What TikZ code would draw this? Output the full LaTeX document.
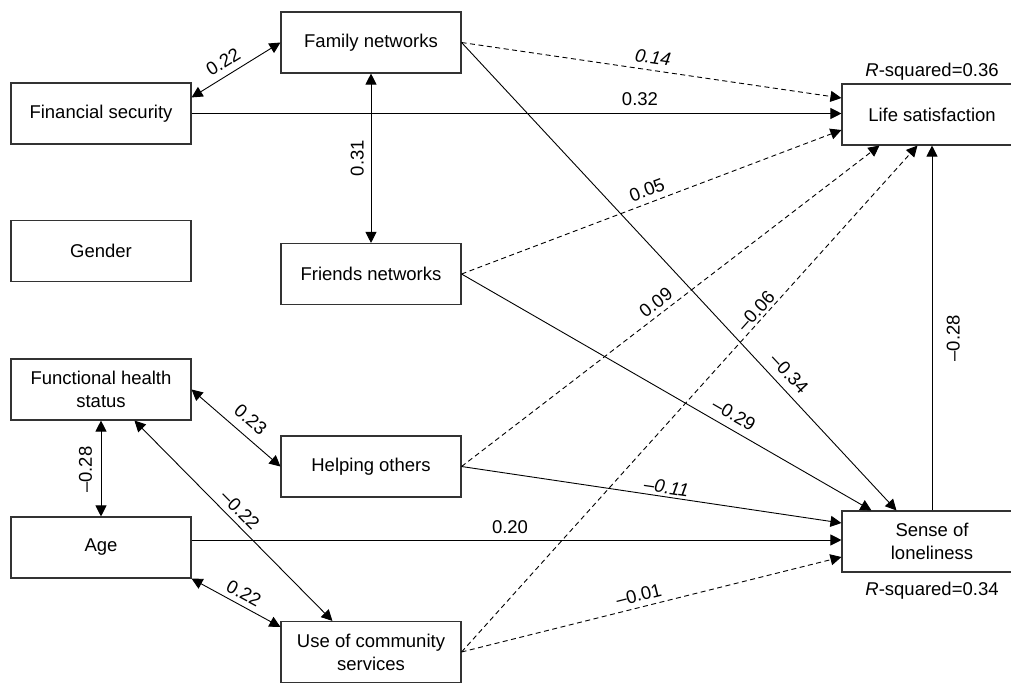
\documentclass[tikz,border=0pt]{standalone}
\usepackage{fontspec}
\setmainfont{Liberation Sans}
\usetikzlibrary{arrows.meta,calc}
\begin{document}
\begin{tikzpicture}[x=1pt,y=-1pt,
  box/.style={draw=black!80,line width=1.1pt,minimum width=180pt,minimum height=61pt,align=center,inner sep=2pt,font=\fontsize{18.5}{23}\selectfont},
  conn/.style={line width=0.9pt,-{Triangle[length=11pt,width=11pt]}},
  bi/.style={line width=0.9pt,{Triangle[length=11pt,width=11pt]}-{Triangle[length=11pt,width=11pt]}},
  dsh/.style={dash pattern=on 5pt off 3.5pt},
  lab/.style={font=\fontsize{18.5}{22}\selectfont,inner sep=3pt,outer sep=#1,sloped},
  lab/.default=0pt,
  rsq/.style={font=\fontsize{18.5}{22}\selectfont,inner sep=0pt,anchor=base},
]
\useasboundingbox (0,0) rectangle (1011,683);
\clip (0,0) rectangle (1011,683);

\node[box] (fam) at (371,42.5) {Family networks};
\node[box] (fin) at (101,113.5) {Financial security};
\node[box] (gen) at (101,251) {Gender};
\node[box] (fri) at (371,274) {Friends networks};
\node[box] (fhs) at (101,389.5) {Functional health\\status};
\node[box] (help) at (371,466.5) {Helping others};
\node[box] (age) at (101,547.5) {Age};
\node[box] (ucs) at (371,652) {Use of community\\services};
\node[box] (life) at (932,114.5) {Life satisfaction};
\node[box] (sol) at (932,541.5) {Sense of\\loneliness};

\node[rsq] (r1) at (932,76) {\textit{R}-squared=0.36};
\node[rsq] (r2) at (932,595) {\textit{R}-squared=0.34};

\coordinate (finA) at ($(fin.north east)+(0,15)$);
\coordinate (lsFam) at ($(life.west)+(0,-16.5)$);
\coordinate (lsFri) at ($(life.west)+(0,15.5)$);
\coordinate (lsHelp) at ($(life.south west)+(38,0)$);
\coordinate (lsUcs) at ($(life.south west)+(76,0)$);
\coordinate (solFri) at ($(sol.north west)+(30,0)$);
\coordinate (solFam) at ($(sol.north west)+(55,0)$);
\coordinate (solHelp) at ($(sol.west)+(0,-18.5)$);
\coordinate (solUcs) at ($(sol.west)+(0,15.5)$);
\coordinate (fhsB) at ($(fhs.south west)+(124,0)$);
\coordinate (ucsT) at ($(ucs.north west)+(52,0)$);
\coordinate (ucsL) at ($(ucs.north west)+(0,6)$);
\coordinate (ageR) at ($(sol.west -| age.east)+(0,-1.5)$);
\coordinate (solA) at ($(sol.west)+(0,-1.5)$);

% correlations
\draw[bi] (finA) -- node[lab=4.1pt,above,pos=0.436]{0.22} (fam.west);
\draw[bi] (fri.north) -- node[lab=4.3pt,above,pos=0.5]{0.31} (fam.south);
\draw[bi] (fhs.east) -- node[lab=6.5pt,above,pos=0.547]{0.23} (help.west);
\draw[bi] (age.north) -- node[lab=6pt,above,pos=0.487]{–0.28} (fhs.south);
\draw[bi] (fhsB) -- node[lab=2.8pt,above,pos=0.489]{–0.22} (ucsT);
\draw[bi] (age.south east) -- node[lab=2.4pt,above,pos=0.524]{0.22} (ucsL);

% paths
\draw[conn,dsh] (fam.east) -- node[lab=3.4pt,above,pos=0.499]{\itshape 0.14} (lsFam);
\draw[conn] (fin.east) -- node[lab=5.3pt,above,pos=0.69]{0.32} (fin.east -| life.west);
\draw[conn,dsh] (fri.east) -- node[lab=3.2pt,above,pos=0.5]{0.05} (lsFri);
\draw[conn,dsh] (help.east) -- node[lab=2.1pt,above,pos=0.482]{0.09} (lsHelp);
\draw[conn,dsh] (ucs.east) -- node[lab,above,pos=0.661]{–0.06} (lsUcs);
\draw[conn] (sol.north) -- node[lab=11.7pt,below,pos=0.472]{–0.28} (life.south);
\draw[conn] (fam.east) -- node[lab=5.2pt,above,pos=0.729]{–0.34} (solFam);
\draw[conn] (fri.east) -- node[lab=4.6pt,above,pos=0.647]{–0.29} (solFri);
\draw[conn] (help.east) -- node[lab,above,pos=0.536]{\itshape –0.11} (solHelp);
\draw[conn] (ageR) -- node[lab=3.5pt,above,pos=0.49]{0.20} (solA);
\draw[conn,dsh] (ucs.east) -- node[lab=2.6pt,above,pos=0.474]{–0.01} (solUcs);
\end{tikzpicture}
\end{document}
